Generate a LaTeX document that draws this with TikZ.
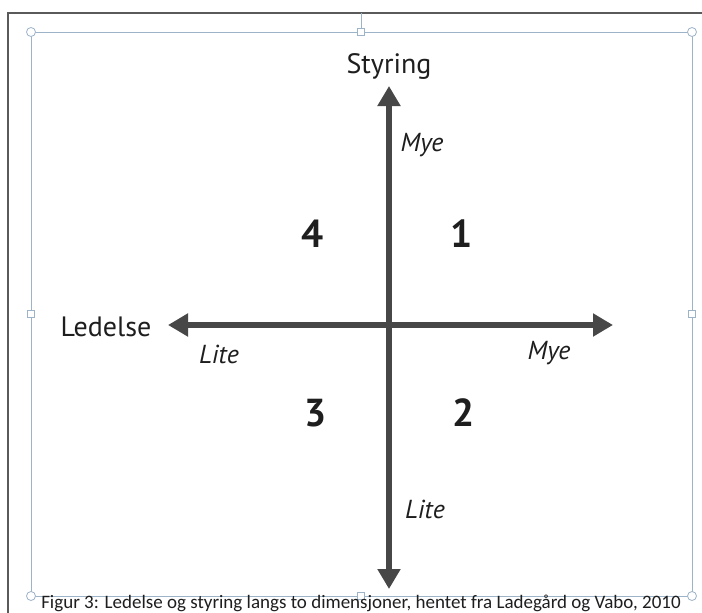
\documentclass[tikz,border=0pt]{standalone}
\usepackage{fontspec}
\setmainfont{PT Sans}
\newfontfamily\capfont{Carlito}
\usetikzlibrary{arrows.meta}
\definecolor{axisgray}{HTML}{474747}
\definecolor{txt}{HTML}{1E1E1E}
\definecolor{selblue}{HTML}{9DB3C8}
\definecolor{framegray}{HTML}{5A5A5A}
\tikzset{
  axisarrow/.style={draw=axisgray, line width=6pt, {Triangle[length=20pt,width=22pt]}-{Triangle[length=20pt,width=22pt]}},
  axislabel/.style={text=txt, font=\fontsize{28}{31}\selectfont, inner sep=0pt},
  endlabel/.style={text=txt, font=\fontsize{26}{29}\selectfont\itshape, inner sep=0pt},
  quadnum/.style={text=txt, font=\fontsize{39}{42}\selectfont\bfseries, inner sep=0pt},
  roundhandle/.style={draw=selblue, fill=white, circle, inner sep=0pt, minimum size=9pt, line width=0.8pt},
  squarehandle/.style={draw=selblue, fill=white, rectangle, inner sep=0pt, minimum size=7pt, line width=0.8pt},
}
\begin{document}
\begin{tikzpicture}[x=1pt,y=-1pt]
\useasboundingbox (0,0) rectangle (702,613);
\fill[white] (0,0) rectangle (702,613);
% outer frame
\draw[framegray, line width=1.2pt] (8,613) -- (8,13) -- (702,13);
% selection frame
\coordinate (tl) at (31,32);
\coordinate (tr) at (692,32);
\coordinate (bl) at (31,596);
\coordinate (br) at (692,596);
\coordinate (rot) at (361,13);
\draw[selblue, line width=0.8pt] (tl) rectangle (br);
\draw[selblue, line width=0.8pt] (rot) -- (361,32);
\node[roundhandle] (h1) at (tl) {};
\node[roundhandle] (h2) at (tr) {};
\node[roundhandle] (h3) at (bl) {};
\node[roundhandle] (h4) at (br) {};
\node[squarehandle] (h5) at (361,32) {};
\node[squarehandle] (h6) at (361,596) {};
\node[squarehandle] (h7) at (31,314) {};
\node[squarehandle] (h8) at (692,314) {};
% axes
\coordinate (left) at (168,325);
\coordinate (right) at (613,325);
\coordinate (top) at (389,86);
\coordinate (bottom) at (389,589);
\draw[axisarrow] (left) -- (right);
\draw[axisarrow] (bottom) -- (top);
% labels
\node[axislabel] (styring) at (389,66) {Styring};
\node[axislabel] (ledelse) at (106,327) {Ledelse};
\node[endlabel] (mye1) at (422,145) {Mye};
\node[endlabel] (lite1) at (219,354) {Lite};
\node[endlabel] (mye2) at (549,353) {Mye};
\node[endlabel] (lite2) at (425,509) {Lite};
\node[quadnum] (q4) at (313,234) {4};
\node[quadnum] (q1) at (462,234) {1};
\node[quadnum] (q3) at (316,413) {3};
\node[quadnum] (q2) at (464,413) {2};
% caption
\node[text=txt, font=\capfont\fontsize{19}{21}\selectfont, inner sep=0pt, anchor=base] (cap) at (361,608) {Figur 3: Ledelse og styring langs to dimensjoner, hentet fra Ladegård og Vabo, 2010};
\end{tikzpicture}
\end{document}
